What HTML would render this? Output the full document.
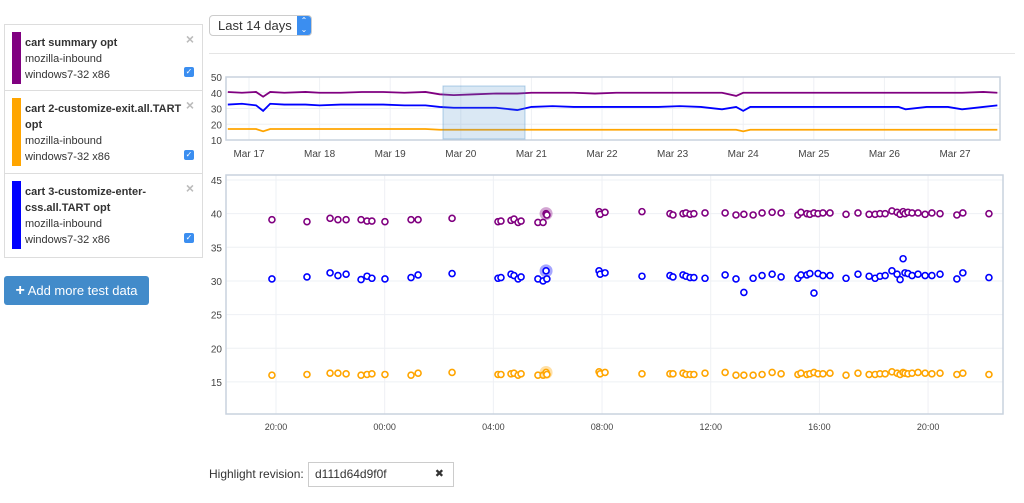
<!DOCTYPE html>
<html><head><meta charset="utf-8"><style>
body{margin:0;width:1024px;height:503px;background:#fff;font-family:"Liberation Sans",sans-serif;color:#333;position:relative;overflow:hidden}
.abs{position:absolute}
.panel{left:4px;top:24px;width:197px;height:232px;border:1px solid #ddd}
.entry{position:absolute;left:0;width:197px;border-bottom:1px solid #ddd;font-size:11px;line-height:16px}
.bar{position:absolute;left:7px;width:9px}
.txt{position:absolute;left:20px}
.x{position:absolute;right:8px;top:8px;color:#bbb;font-size:14px;font-weight:bold;line-height:12px}
.cb{position:absolute;right:8px;width:10px;height:10px;background:#3b8ef0;border-radius:2px;color:#fff;font-size:8px;line-height:10px;text-align:center}
</style></head><body>
<div class="abs panel">
 <div class="entry" style="top:0;height:65px">
  <div class="bar" style="top:7px;height:52px;background:#800080"></div>
  <div class="txt" style="top:10px"><b>cart summary opt</b><br>mozilla-inbound<br>windows7-32 x86</div>
  <div class="x">×</div>
  <div class="cb" style="top:42px">✓</div>
 </div>
 <div class="entry" style="top:66px;height:82px">
  <div class="bar" style="top:7px;height:68px;background:#ffa500"></div>
  <div class="txt" style="top:10px"><b>cart 2-customize-exit.all.TART<br>opt</b><br>mozilla-inbound<br>windows7-32 x86</div>
  <div class="x">×</div>
  <div class="cb" style="top:59px">✓</div>
 </div>
 <div class="entry" style="top:149px;height:83px;border-bottom:none">
  <div class="bar" style="top:7px;height:68px;background:#0000ff"></div>
  <div class="txt" style="top:10px"><b>cart 3-customize-enter-<br>css.all.TART opt</b><br>mozilla-inbound<br>windows7-32 x86</div>
  <div class="x">×</div>
  <div class="cb" style="top:59px">✓</div>
 </div>
</div>
<div class="abs" style="left:4px;top:276px;width:145px;height:29px;background:#428bca;border-radius:3px;color:#fff;font-size:13px;line-height:29px;text-align:center"><b style="font-size:16px">+</b> Add more test data</div>
<div class="abs" style="left:209px;top:15px;width:101px;height:19px;border:1px solid #ccc;border-radius:4px;font-size:13px;line-height:19px"><span style="margin-left:8px">Last 14 days</span><span style="position:absolute;right:0;top:0;width:14px;height:19px;background:#3b8ef0;border-radius:0 3px 3px 0;color:#fff;font-size:8px;line-height:9px;text-align:center">⌃<br>⌄</span></div>
<div class="abs" style="left:209px;top:53px;width:806px;height:1px;background:#e5e5e5"></div>
<div class="abs" style="left:209px;top:467px;font-size:12px">Highlight revision:</div>
<div class="abs" style="left:308px;top:462px;width:144px;height:23px;border:1px solid #ccc;font-size:12px;line-height:23px"><span style="margin-left:6px">d111d64d9f0f</span><span style="position:absolute;right:9px;font-size:11px">✖</span></div>
<svg class="abs" style="left:0;top:0" width="1024" height="503" id="svg"></svg>
<script>
// overview data: day offset from Mar 16 00:00
const ovDays=[16.7,16.9,17.1,17.2,17.3,17.5,17.8,18.0,18.3,18.6,18.9,19.2,19.5,19.7,19.9,20.2,20.5,20.8,21.0,21.3,21.6,21.9,22.2,22.5,22.8,23.1,23.4,23.7,23.9,24.0,24.1,24.4,24.7,25.0,25.3,25.6,25.9,26.2,26.3,26.6,26.9,27.1,27.4,27.6];
const ovPurple=[40.5,40,40.5,37.5,40.5,40,40.5,40,40,40.5,40.5,40,40.5,39,38.5,39,39.5,39.5,40,40,40,39.5,40,40,40,40,40,40,38,40,40,40,40,40,40,40,40,40,40,40,40,40,40.5,40];
const ovBlue=[32.5,33,32,28.5,33,32.5,32.5,32,32.5,32.5,32.5,32,32,31,30.5,30.5,30.5,29,31,31.5,31,31,31,31,31,31.5,31,29.5,31,28.5,31,31,31,31,31,31,31,31,29.5,31,31,29.5,31,32];
const ovOrange=[17,17,17,15.5,17,17,17,17,17,17,17,17,17,16.5,16.5,16.5,16.5,16.5,16.5,16.5,16.5,16.5,16.5,16.5,16.5,16.5,16.5,16.5,16.5,15.5,16.5,16.5,16.5,16.5,16.5,16.5,16.5,16.5,16.5,16.5,16.5,16.5,16.5,16.5];
const ovTicks=["Mar 17","Mar 18","Mar 19","Mar 20","Mar 21","Mar 22","Mar 23","Mar 24","Mar 25","Mar 26","Mar 27"];
const ovYTicks=[10,20,30,40,50];
// main data: hours since 20:00 of first day
const hours=[-0.15,1.14,1.99,2.28,2.58,3.13,3.35,3.53,4.01,4.97,5.23,6.48,8.17,8.28,8.65,8.76,8.91,9.02,9.64,9.83,9.94,9.97,11.89,11.93,12.11,13.47,14.5,14.61,14.98,15.09,15.24,15.38,15.79,16.53,16.93,17.22,17.56,17.89,18.26,18.59,19.21,19.32,19.54,19.65,19.8,19.95,20.13,20.39,20.98,21.42,21.83,22.05,22.23,22.42,22.67,22.86,22.97,23.08,23.15,23.26,23.41,23.63,23.89,24.14,24.44,25.06,25.28,26.24];
const purple=[39.1,38.8,39.3,39.1,39.1,39.1,38.9,38.9,38.8,39.1,39.1,39.3,38.8,38.9,39.0,39.2,38.7,38.9,38.7,38.7,40.0,39.8,40.3,39.9,40.2,40.3,40.0,39.8,40.0,40.1,39.9,40.0,40.1,40.1,39.8,39.9,39.8,40.1,40.2,40.1,39.8,40.2,40.0,39.9,40.1,40.0,40.1,40.1,39.9,40.1,39.9,39.9,40.0,40.0,40.4,40.2,39.9,40.3,40.0,40.2,40.1,40.1,39.9,40.1,40.0,39.8,40.1,40.0];
const blue=[30.3,30.6,31.2,30.8,31.0,30.2,30.7,30.4,30.3,30.5,30.9,31.1,30.4,30.5,31.0,30.8,30.3,30.6,30.3,30.0,31.5,30.3,31.5,31.0,31.2,30.7,30.8,30.6,30.9,30.7,30.5,30.5,30.4,30.9,30.3,28.3,30.4,30.8,31.0,30.6,30.4,30.9,30.9,31.1,28.2,31.1,30.8,30.8,30.4,31.0,30.7,30.4,30.7,30.8,31.5,31.0,30.2,33.3,31.2,31.1,30.8,31.0,30.8,30.8,31.0,30.3,31.2,30.5];
const orange=[16.0,16.1,16.3,16.3,16.2,16.0,16.1,16.2,16.1,16.0,16.3,16.4,16.1,16.1,16.2,16.3,16.0,16.2,16.0,16.0,16.4,16.1,16.5,16.2,16.4,16.2,16.2,16.2,16.3,16.1,16.1,16.1,16.3,16.4,16.0,16.0,16.0,16.1,16.4,16.2,16.1,16.3,16.1,16.2,16.4,16.2,16.2,16.3,16.0,16.3,16.1,16.1,16.2,16.2,16.5,16.3,16.1,16.4,16.3,16.2,16.3,16.4,16.3,16.2,16.3,16.1,16.3,16.1];
const mainXTicks=["20:00","00:00","04:00","08:00","12:00","16:00","20:00"];
const mainYTicks=[15,20,25,30,35,40,45];
const highlightHour=9.94;

const NS="http://www.w3.org/2000/svg";
const svg=document.getElementById('svg');
function mk(t,a,p){const e=document.createElementNS(NS,t);for(const k in a)e.setAttribute(k,a[k]);(p||svg).appendChild(e);return e;}
// overview scales
const ox=d=>249+(d-17)*70.6, oy=v=>140-(v-10)*1.575;
const ov=mk('g',{});


ovTicks.forEach((t,i)=>{const x=ox(17+i);
 const gl=mk('line',{x1:x,x2:x,y1:77,y2:140,stroke:'#eef0f4'},ov);
 const tx=mk('text',{x:x,y:157,'text-anchor':'middle','font-size':10,fill:'#444'},ov);tx.textContent=t;
 
 });
ovYTicks.forEach(v=>{const y=oy(v);mk('line',{x1:226,x2:1000,y1:y,y2:y,stroke:'#eef0f4'},ov);
 const tx=mk('text',{x:222,y:y+4,'text-anchor':'end','font-size':10,fill:'#444'},ov);tx.textContent=v;
 
 });
mk('rect',{x:226,y:77,width:774,height:63,fill:'none',stroke:'#c9d2de','stroke-width':1.5},ov);
[[ovPurple,'#800080'],[ovBlue,'#0000ff'],[ovOrange,'#ffa500']].forEach(([s,c])=>{
 const p=mk('polyline',{points:s.map((v,i)=>ox(ovDays[i])+','+oy(v)).join(' '),fill:'none',stroke:c,'stroke-width':1.8},ov);
 
 });
const sel=mk('rect',{x:443,y:86,width:82,height:53,fill:'rgba(70,140,200,0.2)',stroke:'rgba(70,140,200,0.4)'},ov);


// main scales
const mx=h=>276+h*27.17, my=v=>180+(45-v)*6.73;
const mg=mk('g',{});


mk('rect',{x:226,y:175,width:777,height:239,fill:'#fff'},mg);
mainXTicks.forEach((t,i)=>{const x=mx(i*4);mk('line',{x1:x,x2:x,y1:175,y2:414,stroke:'#eef0f4'},mg);
 const tx=mk('text',{x:x,y:430,'text-anchor':'middle','font-size':9,fill:'#444'},mg);tx.textContent=t;
 
 });
mainYTicks.forEach(v=>{const y=my(v);mk('line',{x1:226,x2:1003,y1:y,y2:y,stroke:'#eef0f4'},mg);
 const tx=mk('text',{x:222,y:y+4,'text-anchor':'end','font-size':10,fill:'#444'},mg);tx.textContent=v;
 
 });
mk('rect',{x:226,y:175,width:777,height:239,fill:'none',stroke:'#c9d2de','stroke-width':1.5},mg);
[[purple,'#800080','purple'],[blue,'#0000ff','blue'],[orange,'#ffa500','orange']].forEach(([s,c,n])=>{
 s.forEach((v,i)=>{
  if(hours[i]===highlightHour){const h=mk('circle',{cx:mx(hours[i]),cy:my(v),r:6.5,fill:c,opacity:0.35},mg);
   
   }
  const pt=mk('circle',{cx:mx(hours[i]),cy:my(v),r:3,fill:'#fff',stroke:c,'stroke-width':1.6},mg);
  
  });});
</script>
</body></html>
